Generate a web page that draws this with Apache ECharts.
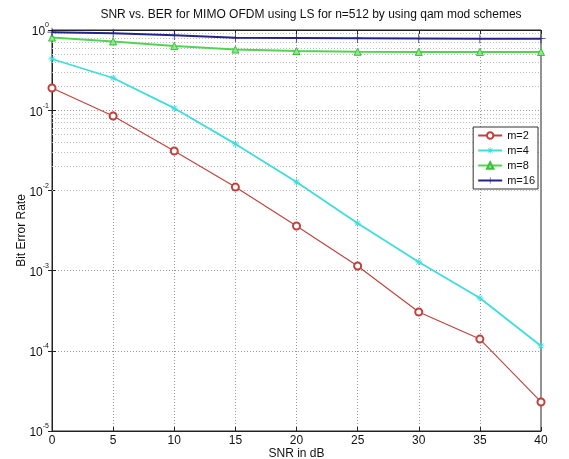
<!DOCTYPE html>
<html>
<head>
<meta charset="utf-8">
<script src="https://cdn.jsdelivr.net/npm/echarts@6/dist/echarts.min.js"></script>
<style>
  html, body { margin: 0; padding: 0; background: #fff; }
  #chart { width: 569px; height: 459px; }
</style>
</head>
<body>
<div id="chart"></div>
<script>
const snr = [0, 5, 10, 15, 20, 25, 30, 35, 40]
const seriesNames = ['m=2', 'm=4', 'm=8', 'm=16']
const berM2 = [0.189, 0.0847, 0.031, 0.011, 0.0036, 0.00114, 0.000305, 0.00014, 0.000023]
const berM4 = [0.435, 0.252, 0.106, 0.038, 0.0127, 0.0039, 0.00128, 0.000455, 0.000115]
const berM8 = [0.805, 0.72, 0.63, 0.57, 0.547, 0.535, 0.533, 0.532, 0.532]
const berM16 = [0.94, 0.91, 0.86, 0.8, 0.795, 0.79, 0.785, 0.78, 0.78]

// minor log grid lines: 2..9 x 10^k
const minorLines = []
for (let k = -5; k < 0; k++) {
  for (let m = 2; m <= 9; m++) minorLines.push({ yAxis: m * Math.pow(10, k) })
}

const plusPath = 'path://M-0.08,-1H0.08V-0.08H1V0.08H0.08V1H-0.08V0.08H-1V-0.08H-0.08Z'
const starPath = 'path://M-1,-0.12H1V0.12H-1Z M-0.12,-1H0.12V1H-0.12Z M-0.78,-0.62L-0.62,-0.78L0.78,0.62L0.62,0.78Z M0.62,-0.78L0.78,-0.62L-0.62,0.78L-0.78,0.62Z'

const chart = echarts.init(document.getElementById('chart'))
const font = 'Liberation Sans, Arial, sans-serif'

function pairs(vals) {
  return snr.map((x, i) => [x, vals[i]])
}

chart.setOption({
  animation: false,
  title: {
    text: 'SNR vs. BER for MIMO OFDM using LS for n=512 by using qam mod schemes',
    left: 306,
    textAlign: 'center',
    top: 4,
    textStyle: { fontFamily: font, fontSize: 12, fontWeight: 'normal', color: '#111' }
  },
  grid: {
    left: 52, right: 28, top: 30, bottom: 28,
    outerBoundsMode: 'none',
    show: true, borderColor: '#222', borderWidth: 1
  },
  legend: {
    data: seriesNames,
    orient: 'vertical',
    right: 31,
    top: 127,
    backgroundColor: '#fff',
    borderColor: '#333',
    borderWidth: 1,
    padding: [3, 3, 3, 4],
    itemWidth: 24,
    itemHeight: 8,
    itemGap: 4,
    textStyle: { fontFamily: font, fontSize: 11, color: '#111' }
  },
  xAxis: [{
    type: 'value',
    min: 0,
    max: 40,
    interval: 5,
    name: 'SNR in dB',
    nameLocation: 'middle',
    nameGap: 17,
    nameMoveOverlap: false,
    nameTextStyle: { fontFamily: font, fontSize: 12, color: '#111' },
    axisLine: { lineStyle: { color: '#222' } },
    axisTick: { inside: true, length: 4, lineStyle: { color: '#222' } },
    axisLabel: { fontFamily: font, fontSize: 12, color: '#111', margin: 4 },
    splitLine: { show: true, lineStyle: { color: '#999', type: [1, 2] } }
  }, {
    type: 'value',
    position: 'top',
    min: 0,
    max: 40,
    interval: 5,
    axisLine: { lineStyle: { color: '#222' } },
    axisTick: { inside: true, length: 4, lineStyle: { color: '#222' } },
    axisLabel: { show: false },
    splitLine: { show: false }
  }],
  yAxis: [{
    type: 'log',
    logBase: 10,
    min: 1e-5,
    max: 1,
    interval: 1,
    name: 'Bit Error Rate',
    nameLocation: 'middle',
    nameGap: 24,
    nameMoveOverlap: false,
    nameTextStyle: { fontFamily: font, fontSize: 12, color: '#111' },
    axisLine: { lineStyle: { color: '#222' } },
    axisTick: { inside: true, length: 4, lineStyle: { color: '#222' } },
    axisLabel: {
      margin: 3,
      formatter: (v) => '{b|10}{s|' + Math.round(Math.log10(v)) + '}',
      rich: {
        b: { fontFamily: font, fontSize: 12, color: '#111', lineHeight: 16, verticalAlign: 'bottom' },
        s: { fontFamily: font, fontSize: 7, color: '#111', lineHeight: 10, verticalAlign: 'top' }
      }
    },
    splitLine: { show: true, lineStyle: { color: '#999', type: [1, 2] } }
  }, {
    type: 'log',
    logBase: 10,
    min: 1e-5,
    max: 1,
    interval: 1,
    position: 'right',
    axisLine: { lineStyle: { color: '#222' } },
    axisTick: { inside: true, length: 4, lineStyle: { color: '#222' } },
    axisLabel: { show: false },
    splitLine: { show: false }
  }],
  series: [
    {
      name: 'm=2',
      type: 'line',
      data: pairs(berM2),
      symbol: 'emptyCircle',
      symbolSize: 7,
      color: '#c0403c',
      lineStyle: { width: 1.1, color: '#c0403c' },
      itemStyle: { color: '#c0403c', borderColor: '#c0403c', borderWidth: 1 },
      z: 5,
      markLine: {
        silent: true,
        symbol: 'none',
        label: { show: false },
        lineStyle: { color: '#bdbdbd', type: [1, 2], width: 1 },
        z: 1,
        data: minorLines
      }
    },
    {
      name: 'm=4',
      type: 'line',
      data: pairs(berM4),
      symbol: starPath,
      symbolSize: 7,
      color: '#3fdcdc',
      lineStyle: { width: 1.8, color: '#3fdcdc' },
      itemStyle: { color: '#3fdcdc' },
      z: 4
    },
    {
      name: 'm=8',
      type: 'line',
      data: pairs(berM8),
      symbol: 'triangle',
      symbolSize: 7,
      color: '#52d452',
      lineStyle: { width: 2, color: '#52d452' },
      itemStyle: { color: '#8ee68e', borderColor: '#3cc03c', borderWidth: 1 },
      z: 3
    },
    {
      name: 'm=16',
      type: 'line',
      data: pairs(berM16),
      symbol: plusPath,
      symbolSize: 9,
      color: '#23238c',
      lineStyle: { width: 2, color: '#23238c' },
      itemStyle: { color: '#23238c' },
      z: 3
    }
  ]
})
</script>
</body>
</html>
